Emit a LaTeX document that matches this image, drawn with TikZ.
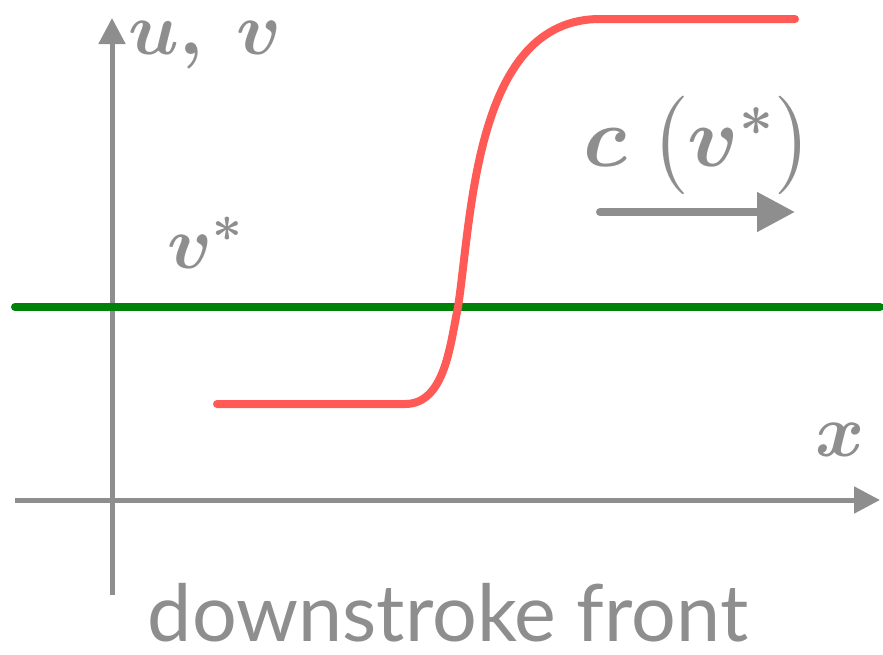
\documentclass[tikz,border=0pt]{standalone}
\usepackage{fontspec}
\setsansfont{Lato}
\usepackage{amsmath}
\usepackage{amssymb}
\usepackage{bm}
\usetikzlibrary{arrows.meta,positioning}
\definecolor{axisgray}{HTML}{8E8E8E}
\definecolor{frontred}{HTML}{FF5A55}
\definecolor{levelgreen}{HTML}{00820A}

\begin{document}
\begin{tikzpicture}[
    x=0.5pt, y=-0.5pt,
    axis/.style={draw=axisgray, line width=2.5pt, -{Triangle[length=13pt, width=13pt]}},
    lbl/.style={text=axisgray, font=\fontsize{20}{24}\selectfont, scale=1.8, inner sep=0pt},
    speed/.style={draw=axisgray, line width=4pt, line cap=round, -{Triangle[length=19pt, width=19pt]}}
  ]
    \useasboundingbox (0,0) rectangle (883,654);
    % axes
    \coordinate (xstart) at (15,500);
    \coordinate (xend) at (880,500);
    \coordinate (ystart) at (112,595);
    \coordinate (yend) at (112,18);
    \draw[axis] (xstart) -- (xend);
    \draw[axis] (ystart) -- (yend);
    % level v*
    \coordinate (gstart) at (15,307);
    \coordinate (gend) at (880,307);
    \draw[levelgreen, line width=4pt, line cap=round] (gstart) -- (gend);
    % front
    \coordinate (low) at (217,404);
    \coordinate (bend) at (405,404);
    \coordinate (mid) at (458,307);
    \coordinate (top) at (600,19);
    \coordinate (high) at (795,19);
    \draw[frontred, line width=4pt, line cap=round]
      (low) -- (bend) .. controls (445,404) and (450,345) .. (mid)
      .. controls (472,215) and (475,19) .. (top) -- (high);
    % speed arrow
    \coordinate (cstart) at (600,212);
    \coordinate (cend) at (795,212);
    \draw[speed] (cstart) -- (cend);
    % labels
    \node[lbl] (uv) at (205,45) {$\boldsymbol{u,\;v}$};
    \node[lbl] (vstar) at (206,243) {$\boldsymbol{v^*}$};
    \node[lbl, scale=1.14] (cv) at (698,145) {$\boldsymbol{c}\;\bigl(\boldsymbol{v^*}\bigr)$};
    \node[lbl] (xlbl) at (840,440) {$\boldsymbol{x}$};
    \node[text=axisgray, font=\sffamily\fontsize{39.5}{42}\selectfont, inner sep=0pt, anchor=base] (caption) at (448,641) {downstroke front};
  \end{tikzpicture}
\end{document}
